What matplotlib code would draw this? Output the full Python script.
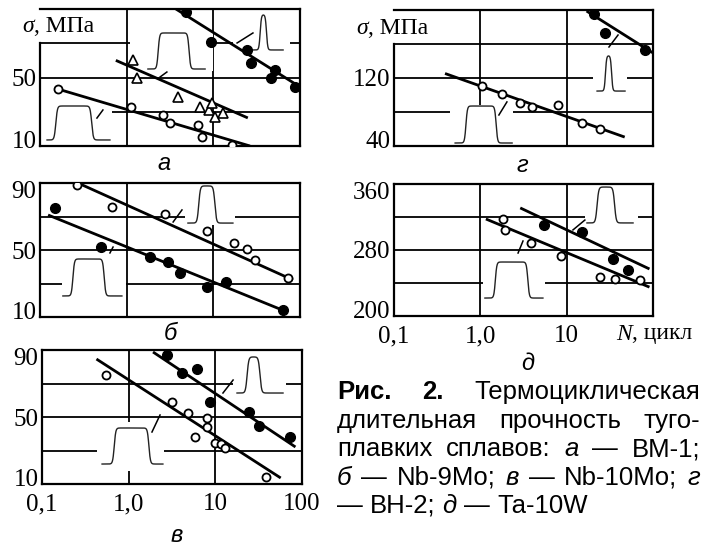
import numpy as np
import matplotlib
matplotlib.use("Agg")
import matplotlib.pyplot as plt
from matplotlib.patches import Rectangle
from matplotlib.ticker import NullLocator, NullFormatter

plt.rcParams['font.family'] = ['Liberation Serif', 'DejaVu Serif']

# ---------------- data ----------------
# panel а (ВМ-1)
a_open_N = [0.16, 1.12, 2.6, 3.2, 6.7, 7.4, 16.3]
a_open_s = [43, 33, 28, 23.5, 22, 15.5, 10.5]
a_tri_N = [1.17, 1.3, 3.9, 7.0, 8.9, 9.7, 10.5, 12.9]
a_tri_s = [60, 50, 38.5, 32.8, 31, 35.1, 27, 29.3]
a_fill_N = [4.8, 9.3, 24.5, 27, 46, 52, 87]
a_fill_s = [88, 71, 66, 58.5, 50, 54.5, 44.5]
a_open_fit_N, a_open_fit_s = [0.16, 26.5], [43.3, 10]
a_tri_fit_N, a_tri_fit_s = [0.75, 25], [60, 26.4]
a_fill_fit_N, a_fill_fit_s = [3.7, 100], [90, 44.5]

# panel б (Nb-9Mo)
b_open_N = [0.27, 0.67, 2.8, 8.5, 17.5, 24.5, 30, 72]
b_open_s = [88.8, 75.7, 71.5, 61.3, 54.2, 50.6, 44, 33.3]
b_fill_N = [0.15, 0.51, 1.86, 3.0, 4.1, 8.5, 14, 63]
b_fill_s = [75, 51.8, 45.8, 42.8, 36.3, 27.9, 30.9, 14.2]
b_open_fit_N, b_open_fit_s = [0.274, 83], [90, 32.1]
b_fill_fit_N, b_fill_fit_s = [0.124, 71], [70.9, 13]

# panel в (Nb-10Mo)
c_open_N = [0.55, 3.2, 4.9, 8.1, 8.1, 5.8, 10, 11.5, 13, 38]
c_open_s = [75, 59, 52.4, 49.4, 44, 38, 34.5, 34, 31.5, 14.2]
c_fill_N = [2.8, 4.1, 6.2, 8.7, 24.5, 32, 72]
c_fill_s = [87, 76, 78.6, 59, 53, 44.6, 38]
c_open_fit_N, c_open_fit_s = [0.425, 56.8], [84.6, 13.6]
c_fill_fit_N, c_fill_fit_s = [1.91, 84], [88.8, 32.1]

# panel г (ВН-2)
d_open_N = [1.05, 1.8, 2.9, 4.0, 8.0, 15, 24.5]
d_open_s = [110, 100.7, 90, 85.5, 88, 67, 59.8]
d_fill_N = [20.5, 28, 81]
d_fill_s = [195, 173, 153]
d_open_fit_N, d_open_fit_s = [0.39, 47], [125.3, 50.5]
d_fill_fit_N, d_fill_fit_s = [17, 98.6], [198.8, 149.8]

# panel д (Ta-10W)
e_open_N = [1.81, 1.95, 3.9, 8.5, 24.5, 36, 70]
e_open_s = [317.6, 304, 288.5, 272.7, 247, 245, 243.6]
e_fill_N = [5.4, 15, 34, 52]
e_fill_s = [310, 302, 269, 256]
e_open_fit_N, e_open_fit_s = [1.16, 91], [317.6, 235]
e_fill_fit_N, e_fill_fit_s = [2.9, 91], [331, 257]

x_grid = [1, 10]
x_ticks = [0.1, 1, 10, 100]
x_ticklabels_v = ['0,1', '1,0', '10', '100']
x_ticklabels_d = ['0,1', '1,0', '10', '']

# ---------------- figure ----------------
W, H = 704, 547
fig = plt.figure(figsize=(W / 100, H / 100), dpi=100)
TICK_FS = 18


def add_ax(x0, y0, x1, y1):
    return fig.add_axes([x0 / W, 1 - y1 / H, (x1 - x0) / W, (y1 - y0) / H])


def setup(ax, ylim, ygrid, yticks, xlabels=None):
    ax.set_xscale('log')
    ax.set_xlim(0.1, 100)
    ax.set_ylim(*ylim)
    for v in ygrid:
        ax.axhline(v, color='black', lw=1.3, zorder=0.5)
    for v in x_grid:
        ax.axvline(v, color='black', lw=1.3, zorder=0.5)
    ax.set_yticks([])
    # y tick labels drawn as annotations so the end labels can sit inside the frame
    for v in yticks:
        if v == ylim[0]:
            dy = 4.5
        elif v == ylim[1]:
            dy = -4.5
        else:
            dy = 0
        ax.annotate(str(v), xy=(0, v), xycoords=ax.get_yaxis_transform(),
                    xytext=(-2.5, dy), textcoords='offset points',
                    ha='right', va='center_baseline', fontsize=TICK_FS,
                    annotation_clip=False)
    ax.set_xticks(x_ticks)
    if xlabels is None:
        ax.set_xticklabels([''] * len(x_ticks))
    else:
        ax.set_xticklabels(xlabels)
    ax.xaxis.set_minor_locator(NullLocator())
    ax.xaxis.set_minor_formatter(NullFormatter())
    ax.tick_params(axis='both', length=0, labelsize=TICK_FS)
    ax.tick_params(axis='x', pad=6.5)
    for sp in ax.spines.values():
        sp.set_linewidth(1.6)
        sp.set_zorder(2.5)


def fit(ax, N, s):
    ax.plot(N, s, color='black', lw=2.0, zorder=3, solid_capstyle='butt')


def pts(ax, N, s, kind):
    if kind == 'open':
        ax.plot(N, s, 'o', ms=5.8, mfc='white', mec='black', mew=1.3, zorder=4)
    elif kind == 'fill':
        ax.plot(N, s, 'o', ms=7, mfc='black', mec='black', mew=1, zorder=4)
    else:
        ax.plot(N, s, '^', ms=6.5, mfc='white', mec='black', mew=1.2, zorder=4)


def pulse(ax, shape, box, rise, fall, width):
    x0, x1, yb, yt = shape
    bx0, bx1, by0, by1 = box
    ax.add_patch(Rectangle((bx0, by0), bx1 - bx0, by1 - by0, transform=ax.transAxes,
                           facecolor='white', edgecolor='none', zorder=1))
    u = np.linspace(0, 1, 300)
    prof = 0.25 * (1 + np.tanh((u - rise) / width)) * (1 + np.tanh((fall - u) / width))
    prof = prof / prof.max()
    ax.plot(x0 + (x1 - x0) * u, yb + (yt - yb) * prof, transform=ax.transAxes,
            color='#222222', lw=1.0, zorder=2)


def leader(ax, seg):
    ax.plot([seg[0], seg[2]], [seg[1], seg[3]], transform=ax.transAxes,
            color='black', lw=1.1, zorder=2)


# ---- panel а
ax_a = add_ax(40, 9, 300, 146)
setup(ax_a, (10, 90), [30, 50, 70], [10, 50])
ax_a.spines['left'].set_bounds(10, 70)
pulse(ax_a, (0.027, 0.269, 0.044, 0.292), (0.0, 0.277, 0.02, 0.31), 0.14, 0.71, 0.025)
pulse(ax_a, (0.415, 0.635, 0.562, 0.825), (0.345, 0.665, 0.55, 0.84), 0.18, 0.72, 0.025)
pulse(ax_a, (0.819, 0.935, 0.701, 0.956), (0.742, 0.96, 0.69, 0.97), 0.24, 0.45, 0.04)
for seg in [(0.219, 0.204, 0.242, 0.263), (0.462, 0.504, 0.488, 0.540), (0.758, 0.752, 0.819, 0.825)]:
    leader(ax_a, seg)
fit(ax_a, a_open_fit_N, a_open_fit_s)
fit(ax_a, a_tri_fit_N, a_tri_fit_s)
fit(ax_a, a_fill_fit_N, a_fill_fit_s)
pts(ax_a, a_open_N, a_open_s, 'open')
pts(ax_a, a_tri_N, a_tri_s, 'tri')
pts(ax_a, a_fill_N, a_fill_s, 'fill')

# ---- panel б
ax_b = add_ax(40, 183, 300, 317)
setup(ax_b, (10, 90), [30, 50, 70], [10, 50, 90])
pulse(ax_b, (0.088, 0.315, 0.157, 0.433), (0.085, 0.33, 0.14, 0.45), 0.17, 0.70, 0.025)
pulse(ax_b, (0.569, 0.742, 0.701, 0.978), (0.558, 0.75, 0.69, 0.99), 0.24, 0.6, 0.035)
for seg in [(0.269, 0.478, 0.281, 0.522), (0.512, 0.709, 0.546, 0.799)]:
    leader(ax_b, seg)
fit(ax_b, b_open_fit_N, b_open_fit_s)
fit(ax_b, b_fill_fit_N, b_fill_fit_s)
pts(ax_b, b_open_N, b_open_s, 'open')
pts(ax_b, b_fill_N, b_fill_s, 'fill')

# ---- panel в
ax_c = add_ax(42, 350, 302, 484)
setup(ax_c, (10, 90), [30, 50, 70], [10, 50, 90], x_ticklabels_v)
pulse(ax_c, (0.75, 0.927, 0.679, 0.948), (0.735, 0.94, 0.67, 0.96), 0.22, 0.5, 0.035)
pulse(ax_c, (0.231, 0.465, 0.149, 0.418), (0.21, 0.47, 0.10, 0.46), 0.2, 0.77, 0.025)
for seg in [(0.696, 0.679, 0.735, 0.776), (0.423, 0.388, 0.454, 0.515)]:
    leader(ax_c, seg)
fit(ax_c, c_open_fit_N, c_open_fit_s)
fit(ax_c, c_fill_fit_N, c_fill_fit_s)
pts(ax_c, c_open_N, c_open_s, 'open')
pts(ax_c, c_fill_N, c_fill_s, 'fill')

# ---- panel г
ax_d = add_ax(394, 10, 653, 146)
setup(ax_d, (40, 200), [80, 120, 160], [40, 120])
ax_d.spines['left'].set_bounds(40, 160)
pulse(ax_d, (0.784, 0.892, 0.404, 0.662), (0.768, 0.9, 0.39, 0.68), 0.3, 0.52, 0.04)
pulse(ax_d, (0.236, 0.456, 0.022, 0.294), (0.216, 0.46, 0.0, 0.30), 0.19, 0.72, 0.025)
for seg in [(0.83, 0.728, 0.865, 0.816), (0.405, 0.228, 0.436, 0.324)]:
    leader(ax_d, seg)
fit(ax_d, d_open_fit_N, d_open_fit_s)
fit(ax_d, d_fill_fit_N, d_fill_fit_s)
pts(ax_d, d_open_N, d_open_s, 'open')
pts(ax_d, d_fill_N, d_fill_s, 'fill')

# ---- panel д
ax_e = add_ax(394, 184, 653, 316)
setup(ax_e, (200, 360), [240, 280, 320], [200, 280, 360], x_ticklabels_d)
pulse(ax_e, (0.745, 0.923, 0.705, 0.977), (0.737, 0.942, 0.69, 0.99), 0.22, 0.6, 0.035)
pulse(ax_e, (0.351, 0.575, 0.136, 0.409), (0.345, 0.583, 0.12, 0.42), 0.18, 0.74, 0.025)
for seg in [(0.691, 0.652, 0.737, 0.727), (0.479, 0.477, 0.498, 0.568)]:
    leader(ax_e, seg)
fit(ax_e, e_open_fit_N, e_open_fit_s)
fit(ax_e, e_fill_fit_N, e_fill_fit_s)
pts(ax_e, e_open_N, e_open_s, 'open')
pts(ax_e, e_fill_N, e_fill_s, 'fill')

renderer = fig.canvas.get_renderer()


def two_part(x, y, first, rest, fs, first_style='italic'):
    t1 = fig.text(x / W, 1 - y / H, first, fontsize=fs, style=first_style,
                  family=['Liberation Serif'], va='center', ha='left')
    fig.canvas.draw()
    w1 = t1.get_window_extent(renderer).width
    fig.text((x + w1) / W, 1 - y / H, rest, fontsize=fs,
             family=['Liberation Serif'], va='center', ha='left')


two_part(22, 27, 'σ', ', МПа', 17)
two_part(356, 28, 'σ', ', МПа', 17)
two_part(616, 334, 'N', ', цикл', 17)

# panel letters
for lab, (x, y) in zip(['а', 'б', 'в', 'г', 'д'],
                       [(164, 164), (170, 333), (177, 536), (522, 166), (528, 364)]):
    fig.text(x / W, 1 - y / H, lab, fontsize=17, style='italic',
             family=['Liberation Sans'], ha='center', va='center')

# caption
CAP_FS = 18.5
LEFT, RIGHT = 337, 700
cap_lines = [
    ([('Рис.', 'b'), ('2.', 'b'), ('Термоциклическая', 'n')], 392, True),
    ([('длительная', 'n'), ('прочность', 'n'), ('туго-', 'n')], 421, True),
    ([('плавких', 'n'), ('сплавов:', 'n'), ('а', 'i'), ('—', 'n'), ('ВМ-1;', 'n')], 449, True),
    ([('б', 'i'), ('—', 'n'), ('Nb-9Mo;', 'n'), ('в', 'i'), ('—', 'n'), ('Nb-10Mo;', 'n'), ('г', 'i')], 478, True),
    ([('—', 'n'), ('ВН-2;', 'n'), ('д', 'i'), ('—', 'n'), ('Та-10W', 'n')], 506, False),
]
sp = fig.text(0, 0, 'a a', fontsize=CAP_FS, family=['Liberation Sans'])
sp2 = fig.text(0, 0, 'aa', fontsize=CAP_FS, family=['Liberation Sans'])
fig.canvas.draw()
space_w = sp.get_window_extent(renderer).width - sp2.get_window_extent(renderer).width
sp.remove()
sp2.remove()
for words, y, just in cap_lines:
    texts = []
    for w, st in words:
        t = fig.text(0, 1 - y / H, w, fontsize=CAP_FS, family=['Liberation Sans'],
                     fontweight='bold' if st == 'b' else 'normal',
                     style='italic' if st == 'i' else 'normal', va='center', ha='left')
        texts.append(t)
    fig.canvas.draw()
    widths = [t.get_window_extent(renderer).width for t in texts]
    if just:
        gap = (RIGHT - LEFT - sum(widths)) / (len(words) - 1)
    else:
        gap = space_w
    x = LEFT
    for t, w in zip(texts, widths):
        t.set_x(x / W)
        x += w + gap

fig.savefig('out.png', dpi=100)
